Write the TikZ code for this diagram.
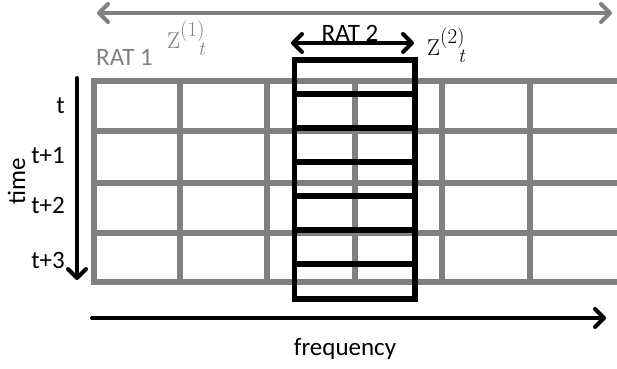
\documentclass[tikz,border=0pt]{standalone}
\usepackage{fontspec}
\setmainfont{Carlito}
\newfontfamily\lmfont{Latin Modern Roman}
\usetikzlibrary{arrows.meta}
\definecolor{gridgray}{RGB}{128,128,128}
\newcommand{\zsym}[1]{Z\raisebox{12pt}{\fontsize{21}{21}\selectfont(#1)}\llap{\raisebox{-7.5pt}{\fontsize{20}{20}\selectfont\itshape t}}}
\begin{document}
\begin{tikzpicture}[x=1pt,y=-1pt,
  gridline/.style={gridgray,line width=6.5pt,line cap=rect},
  ratbox/.style={black,line width=5.5pt},
  barb/.style={line width=4pt,line cap=round,line join=round},
  onehead/.style={barb,-{Straight Barb[length=9pt,width=18pt,line cap=round,line join=round]}},
  twohead/.style={barb,{Straight Barb[length=9pt,width=18pt,line cap=round,line join=round]}-{Straight Barb[length=9pt,width=18pt,line cap=round,line join=round]}},
  lbl/.style={inner sep=0pt,font=\fontsize{25}{29}\selectfont},
  zlbl/.style={inner sep=0pt,anchor=base west,font=\lmfont\fontsize{23}{23}\selectfont}]
\useasboundingbox (0,0) rectangle (617,368);
% grid
\foreach \yy in {81,131,183,233,282} \draw[gridline] (94,\yy) -- (620,\yy);
\foreach \xx in {94,180,267,355,442,530} \draw[gridline] (\xx,81) -- (\xx,282);
% RAT 2 box
\draw[ratbox] (294.5,60) rectangle (415,299);
\foreach \yy in {94,128,162,196,230,264} \draw[ratbox] (294.5,\yy) -- (415,\yy);
% arrows
\coordinate (topL) at (97,13);
\coordinate (topR) at (612,13);
\draw[twohead,gridgray] (topL) -- (topR);
\coordinate (ratL) at (291,43);
\coordinate (ratR) at (414,43);
\draw[twohead,black] (ratL) -- (ratR);
\coordinate (timeT) at (77,78);
\coordinate (timeB) at (77,280);
\draw[onehead,black] (timeT) -- (timeB);
\coordinate (freqL) at (92,318);
\coordinate (freqR) at (606,318);
\draw[onehead,black] (freqL) -- (freqR);
% labels
\node[lbl,anchor=base] (rat2) at (350,41) {RAT 2};
\node[lbl,anchor=base,text=gridgray] (rat1) at (124.5,65) {RAT 1};
\node[lbl,anchor=base] (freq) at (345,355) {frequency};
\node[lbl,anchor=base,rotate=90] (time) at (25,181) {time};
\node[lbl,anchor=base east] (t0) at (65,113) {t};
\node[lbl,anchor=base east] (t1) at (65,163) {t+1};
\node[lbl,anchor=base east] (t2) at (65,213) {t+2};
\node[lbl,anchor=base east] (t3) at (65,268) {t+3};
\node[zlbl] (z2) at (427,55) {\zsym{2}};
\node[zlbl,text=gridgray] (z1) at (167,48) {\zsym{1}};
\end{tikzpicture}
\end{document}
